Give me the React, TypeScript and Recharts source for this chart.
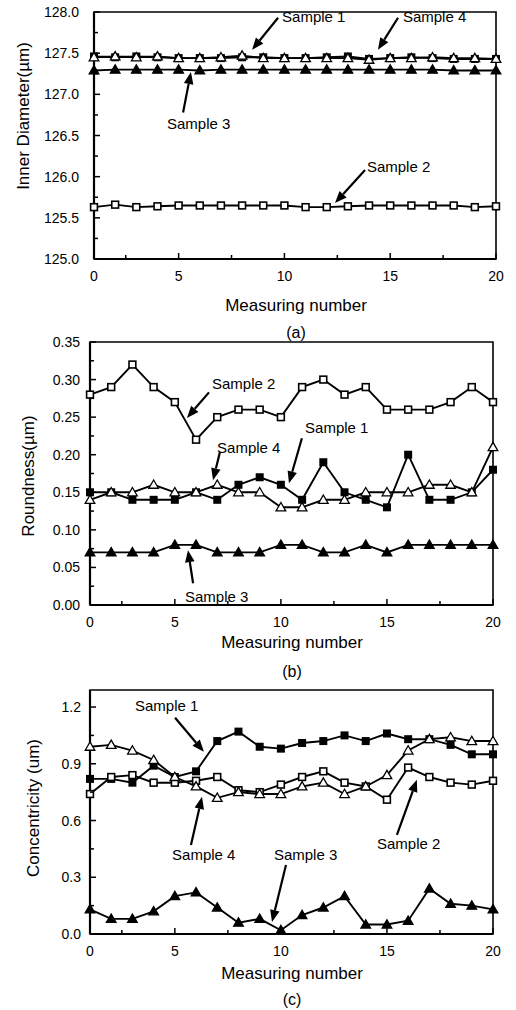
import React from 'react';
import { LineChart, Line, XAxis, YAxis, ReferenceLine, ReferenceDot, ReferenceArea } from 'recharts';

const FONT = '"Liberation Sans", Arial, Helvetica, sans-serif';

// measuring positions; the first point sits on the "0" label of the axis
const measuringNumber = [1, 2, 3, 4, 5, 6, 7, 8, 9, 10, 11, 12, 13, 14, 15, 16, 17, 18, 19, 20];
const xTicks = [1, 2.5, 5, 7.5, 10, 12.5, 15, 17.5, 20];
const xTickLabels = ['0', '', '5', '', '10', '', '15', '', '20'];

// (a) inner diameter
const diameterSample1 = [127.46, 127.45, 127.46, 127.45, 127.44, 127.44, 127.44, 127.45, 127.45, 127.44, 127.44, 127.45, 127.46, 127.43, 127.44, 127.45, 127.44, 127.43, 127.43, 127.43];
const diameterSample2 = [125.63, 125.66, 125.63, 125.64, 125.65, 125.65, 125.65, 125.65, 125.65, 125.65, 125.63, 125.63, 125.64, 125.65, 125.65, 125.65, 125.65, 125.65, 125.63, 125.64];
const diameterSample3 = [127.29, 127.3, 127.3, 127.3, 127.3, 127.29, 127.3, 127.3, 127.3, 127.3, 127.3, 127.3, 127.3, 127.3, 127.3, 127.3, 127.3, 127.29, 127.29, 127.29];
const diameterSample4 = [127.45, 127.46, 127.45, 127.46, 127.44, 127.44, 127.45, 127.47, 127.44, 127.44, 127.44, 127.44, 127.44, 127.42, 127.44, 127.44, 127.45, 127.44, 127.44, 127.43];
const diameterTicks = [125, 125.25, 125.5, 125.75, 126, 126.25, 126.5, 126.75, 127, 127.25, 127.5, 127.75, 128];
const diameterTickLabels = ['125.0', '', '125.5', '', '126.0', '', '126.5', '', '127.0', '', '127.5', '', '128.0'];

// (b) roundness
const roundnessSample1 = [0.15, 0.15, 0.14, 0.14, 0.14, 0.15, 0.14, 0.16, 0.17, 0.16, 0.14, 0.19, 0.15, 0.14, 0.13, 0.2, 0.14, 0.14, 0.15, 0.18];
const roundnessSample2 = [0.28, 0.29, 0.32, 0.29, 0.27, 0.22, 0.25, 0.26, 0.26, 0.25, 0.29, 0.3, 0.28, 0.29, 0.26, 0.26, 0.26, 0.27, 0.29, 0.27];
const roundnessSample3 = [0.07, 0.07, 0.07, 0.07, 0.08, 0.08, 0.07, 0.07, 0.07, 0.08, 0.08, 0.07, 0.07, 0.08, 0.07, 0.08, 0.08, 0.08, 0.08, 0.08];
const roundnessSample4 = [0.14, 0.15, 0.15, 0.16, 0.15, 0.15, 0.16, 0.15, 0.15, 0.13, 0.13, 0.14, 0.14, 0.15, 0.15, 0.15, 0.16, 0.16, 0.15, 0.21];
const roundnessTicks = [0, 0.025, 0.05, 0.075, 0.1, 0.125, 0.15, 0.175, 0.2, 0.225, 0.25, 0.275, 0.3, 0.325, 0.35];
const roundnessTickLabels = ['0.00', '', '0.05', '', '0.10', '', '0.15', '', '0.20', '', '0.25', '', '0.30', '', '0.35'];

// (c) concentricity
const concSample1 = [0.82, 0.82, 0.8, 0.89, 0.83, 0.86, 1.02, 1.07, 0.99, 0.98, 1.01, 1.02, 1.05, 1.02, 1.06, 1.03, 1.03, 1.0, 0.95, 0.95];
const concSample2 = [0.74, 0.83, 0.84, 0.8, 0.8, 0.81, 0.83, 0.76, 0.75, 0.79, 0.83, 0.86, 0.8, 0.78, 0.71, 0.88, 0.83, 0.8, 0.79, 0.81];
const concSample3 = [0.13, 0.08, 0.08, 0.12, 0.2, 0.22, 0.14, 0.06, 0.08, 0.02, 0.1, 0.14, 0.2, 0.05, 0.05, 0.07, 0.24, 0.16, 0.15, 0.13];
const concSample4 = [0.99, 1.0, 0.97, 0.92, 0.83, 0.78, 0.72, 0.75, 0.74, 0.74, 0.78, 0.8, 0.74, 0.78, 0.84, 0.97, 1.03, 1.04, 1.02, 1.02];
const concTicks = [0, 0.15, 0.3, 0.45, 0.6, 0.75, 0.9, 1.05, 1.2];
const concTickLabels = ['0.0', '', '0.3', '', '0.6', '', '0.9', '', '1.2'];

// callouts: text anchor, arrow start and arrow tip, in data units
const diameterNotes = [
  { text: 'Sample 1', at: [9.89, 127.95], from: [9.7, 127.93], to: [8.47, 127.54] },
  { text: 'Sample 4', at: [15.6, 127.95], from: [15.37, 127.93], to: [14.42, 127.54] },
  { text: 'Sample 3', at: [4.45, 126.65], from: [5.21, 126.78], to: [5.58, 127.27] },
  { text: 'Sample 2', at: [13.9, 126.12], from: [13.81, 126.08], to: [12.39, 125.68] },
];
const roundnessNotes = [
  { text: 'Sample 2', at: [6.75, 0.295], from: [6.61, 0.283], to: [5.57, 0.249] },
  { text: 'Sample 1', at: [11.14, 0.236], from: [10.99, 0.222], to: [10.38, 0.162] },
  { text: 'Sample 4', at: [6.99, 0.21], from: [7.13, 0.204], to: [6.8, 0.166] },
  { text: 'Sample 3', at: [5.48, 0.011], from: [5.86, 0.029], to: [5.62, 0.073] },
];
const concNotes = [
  { text: 'Sample 1', at: [3.12, 1.21], from: [5.01, 1.143], to: [6.37, 0.963] },
  { text: 'Sample 4', at: [4.87, 0.418], from: [5.76, 0.471], to: [6.28, 0.725] },
  { text: 'Sample 3', at: [9.67, 0.418], from: [10.24, 0.365], to: [9.58, 0.063] },
  { text: 'Sample 2', at: [14.53, 0.481], from: [15.47, 0.524], to: [16.41, 0.815] },
];

const rows = (s1: number[], s2: number[], s3: number[], s4: number[]) =>
  measuringNumber.map((n, i) => ({ n, s1: s1[i], s2: s2[i], s3: s3[i], s4: s4[i] }));

const marker = (kind: string) => (p: any) => {
  const { cx, cy, index } = p;
  const k = `${kind}-${index}`;
  if (cx == null || cy == null) return <g key={k} />;
  if (kind === 'fsq') return <rect key={k} x={cx - 4} y={cy - 4} width={8} height={8} fill="#000" />;
  if (kind === 'osq')
    return <rect key={k} x={cx - 3.4} y={cy - 3.4} width={6.8} height={6.8} fill="#fff" stroke="#000" strokeWidth={1.6} />;
  const pts = `${cx},${cy - 4.8} ${cx + 4.8},${cy + 3.5} ${cx - 4.8},${cy + 3.5}`;
  return <polygon key={k} points={pts} fill={kind === 'ftri' ? '#000' : '#fff'} stroke="#000" strokeWidth={1.3} />;
};

const series = [
  { key: 's1', kind: 'fsq' },
  { key: 's2', kind: 'osq' },
  { key: 's3', kind: 'ftri' },
  { key: 's4', kind: 'otri' },
];

const arrowShape = (p: any) => {
  const { x1, y1, x2, y2 } = p;
  const dx = x2 - x1;
  const dy = y2 - y1;
  const len = Math.hypot(dx, dy) || 1;
  const ux = dx / len;
  const uy = dy / len;
  const head = 12;
  const half = 4.8;
  const bx = x2 - ux * head;
  const by = y2 - uy * head;
  return (
    <g>
      <line x1={x1} y1={y1} x2={bx} y2={by} stroke="#000" strokeWidth={2.2} />
      <polygon points={`${x2},${y2} ${bx - uy * half},${by + ux * half} ${bx + uy * half},${by - ux * half}`} fill="#000" />
    </g>
  );
};

const noteText = (text: string) => (p: any) => (
  <text x={p.cx} y={p.cy} dominantBaseline="central" fontSize={15} fontFamily={FONT} fill="#000">
    {text}
  </text>
);

const XTick = (p: any) => {
  const { x, y, payload } = p;
  const label = xTickLabels[xTicks.indexOf(payload.value)];
  return (
    <g>
      <line x1={x} y1={y} x2={x} y2={y - (label ? 6 : 4)} stroke="#000" strokeWidth={1.5} />
      {label && (
        <text x={x} y={y + 17} textAnchor="middle" dominantBaseline="central" fontSize={14} fontFamily={FONT} fill="#000">
          {label}
        </text>
      )}
    </g>
  );
};

const makeYTick = (ticks: number[], labels: string[], gap: number) => (p: any) => {
  const { x, y, payload } = p;
  const label = labels[ticks.indexOf(payload.value)];
  return (
    <g>
      <line x1={x} y1={y} x2={x + (label ? 6 : 4)} y2={y} stroke="#000" strokeWidth={1.5} />
      {label && (
        <text x={x - gap} y={y} textAnchor="end" dominantBaseline="central" fontSize={14} fontFamily={FONT} fill="#000">
          {label}
        </text>
      )}
    </g>
  );
};

interface PanelProps {
  top: number;
  height: number;
  data: any[];
  domain: [number, number];
  ticks: number[];
  tickLabels: string[];
  notes: { text: string; at: number[]; from: number[]; to: number[] }[];
  margin: { top: number; right: number; left: number; bottom: number };
  yWidth: number;
  xHeight: number;
  gap: number;
}

const Panel = ({ top, height, data, domain, ticks, tickLabels, notes, margin, yWidth, xHeight, gap }: PanelProps) => (
  <div style={{ position: 'absolute', left: 0, top }}>
    <LineChart width={516} height={height} data={data} margin={margin}>
      <XAxis
        type="number"
        dataKey="n"
        domain={[1, 20]}
        ticks={xTicks}
        interval={0}
        height={xHeight}
        tickLine={false}
        tickSize={0}
        tickMargin={0}
        axisLine={{ stroke: '#000', strokeWidth: 2.2 }}
        tick={(p: any) => <XTick {...p} />}
      />
      <YAxis
        type="number"
        domain={domain}
        ticks={ticks}
        interval={0}
        width={yWidth}
        allowDataOverflow
        tickLine={false}
        tickSize={0}
        tickMargin={0}
        axisLine={{ stroke: '#000', strokeWidth: 2.2 }}
        tick={makeYTick(ticks, tickLabels, gap)}
      />
      <ReferenceArea x1={1} x2={20} y1={domain[0]} y2={domain[1]} fill="none" stroke="#000" strokeWidth={1.6} ifOverflow="visible" />
      {series.map((s) => (
        <Line
          key={s.key}
          type="linear"
          dataKey={s.key}
          stroke="#000"
          strokeWidth={1.9}
          dot={marker(s.kind)}
          activeDot={false}
          isAnimationActive={false}
        />
      ))}
      {notes.map((nt) => (
        <ReferenceLine
          key={`arrow-${nt.text}`}
          segment={[
            { x: nt.from[0], y: nt.from[1] },
            { x: nt.to[0], y: nt.to[1] },
          ]}
          ifOverflow="visible"
          shape={arrowShape}
        />
      ))}
      {notes.map((nt) => (
        <ReferenceDot key={`text-${nt.text}`} x={nt.at[0]} y={nt.at[1]} r={0} ifOverflow="visible" shape={noteText(nt.text)} />
      ))}
    </LineChart>
  </div>
);

const Caption = ({ x, y, children, size = 16 }: any) => (
  <div
    style={{
      position: 'absolute',
      left: x,
      top: y,
      transform: 'translate(-50%, -50%)',
      whiteSpace: 'nowrap',
      fontSize: size,
      fontFamily: FONT,
      lineHeight: 1,
    }}
  >
    {children}
  </div>
);

const YTitle = ({ x, y, children }: any) => (
  <div
    style={{
      position: 'absolute',
      left: x,
      top: y,
      transform: 'translate(-50%, -50%) rotate(-90deg)',
      whiteSpace: 'nowrap',
      fontSize: 17,
      fontFamily: FONT,
      lineHeight: 1,
    }}
  >
    {children}
  </div>
);

export default function App() {
  return (
    <div style={{ position: 'absolute', left: 0, top: 0, width: 516, height: 1010, background: '#fff' }}>
      <Panel
        top={0}
        height={300}
        data={rows(diameterSample1, diameterSample2, diameterSample3, diameterSample4)}
        domain={[125, 128]}
        ticks={diameterTicks}
        tickLabels={diameterTickLabels}
        notes={diameterNotes}
        margin={{ top: 12, right: 20, left: 0, bottom: 11 }}
        yWidth={94}
        xHeight={30}
        gap={15}
      />
      <Panel
        top={320}
        height={320}
        data={rows(roundnessSample1, roundnessSample2, roundnessSample3, roundnessSample4)}
        domain={[0, 0.35]}
        ticks={roundnessTicks}
        tickLabels={roundnessTickLabels}
        notes={roundnessNotes}
        margin={{ top: 22, right: 23, left: 0, bottom: 5 }}
        yWidth={90}
        xHeight={30}
        gap={10}
      />
      <Panel
        top={660}
        height={300}
        data={rows(concSample1, concSample2, concSample3, concSample4)}
        domain={[0, 1.29]}
        ticks={concTicks}
        tickLabels={concTickLabels}
        notes={concNotes}
        margin={{ top: 30, right: 23, left: 0, bottom: 0 }}
        yWidth={90}
        xHeight={26}
        gap={9}
      />

      <Caption x={296} y={305} size={17}>Measuring number</Caption>
      <Caption x={296} y={333}>(a)</Caption>
      <Caption x={292} y={642} size={17}>Measuring number</Caption>
      <Caption x={292} y={672}>(b)</Caption>
      <Caption x={292} y={973} size={17}>Measuring number</Caption>
      <Caption x={292} y={1000}>(c)</Caption>

      <YTitle x={23} y={116}>Inner Diameter(µm)</YTitle>
      <YTitle x={28} y={476}>Roundness(µm)</YTitle>
      <YTitle x={33} y={808}>Concentricity (um)</YTitle>
    </div>
  );
}
